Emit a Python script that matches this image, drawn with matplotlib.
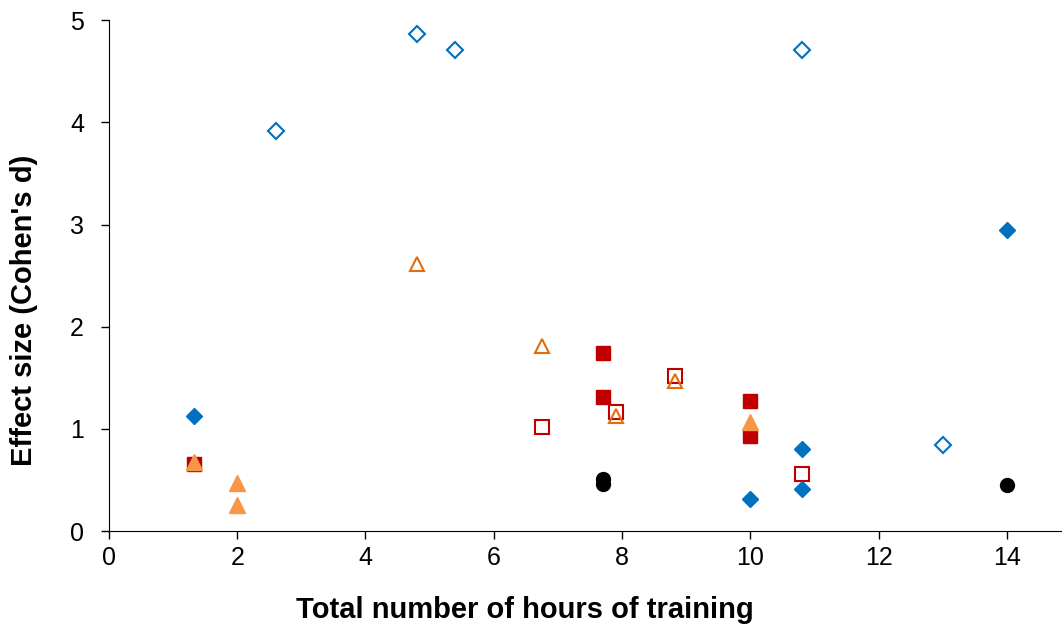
import matplotlib.pyplot as plt

plt.rcParams['font.family'] = ['Liberation Sans', 'DejaVu Sans']

# --- data ---
blue_fill_x = [1.33, 14.0, 10.0, 10.8, 10.8]
blue_fill_y = [1.13, 2.95, 0.31, 0.80, 0.41]

blue_open_x = [2.6, 4.8, 5.4, 10.8, 13.0]
blue_open_y = [3.92, 4.86, 4.71, 4.71, 0.84]

red_fill_x = [1.33, 7.7, 7.7, 10.0, 10.0]
red_fill_y = [0.66, 1.74, 1.31, 1.27, 0.93]

red_open_x = [6.75, 7.9, 8.83, 10.8]
red_open_y = [1.02, 1.17, 1.52, 0.56]

orange_fill_x = [1.33, 2.0, 2.0, 10.0]
orange_fill_y = [0.68, 0.47, 0.26, 1.07]

orange_open_x = [4.8, 6.75, 7.9, 8.83]
orange_open_y = [2.61, 1.81, 1.13, 1.47]

black_x = [7.7, 7.7, 14.0]
black_y = [0.51, 0.46, 0.45]

BLUE = "#0070C0"
RED = "#C00000"
ORANGE = "#F79646"
ORANGE_EDGE = "#E46C0A"

fig = plt.figure(figsize=(10.62, 6.30), dpi=100)
ax = fig.add_axes([0.1026, 0.157, 0.8974, 0.811])

ax.plot(blue_open_x, blue_open_y, "D", ms=8, mfc="white", mec=BLUE, mew=1.5, ls="none")
ax.plot(red_open_x, red_open_y, "s", ms=10, mfc="white", mec=RED, mew=1.5, ls="none")
ax.plot(orange_open_x, orange_open_y, "^", ms=10, mfc="none", mec=ORANGE_EDGE, mew=1.5, ls="none")
ax.plot(red_fill_x, red_fill_y, "s", ms=10.5, color=RED, ls="none")
ax.plot(blue_fill_x, blue_fill_y, "D", ms=8, color=BLUE, ls="none")
ax.plot(orange_fill_x, orange_fill_y, "^", ms=11, color=ORANGE, ls="none")
ax.plot(black_x, black_y, "o", ms=10, color="black", ls="none")

ax.set_xlim(0, 14.86)
ax.set_ylim(0, 5)
ax.set_xticks(range(0, 15, 2))
ax.set_yticks(range(0, 6))
ax.spines["top"].set_visible(False)
ax.spines["right"].set_visible(False)
ax.tick_params(labelsize=18, length=6, width=1)
ax.tick_params(axis="y", pad=12)
ax.tick_params(axis="x", pad=5)

ax.set_xlabel("Total number of hours of training", fontsize=21, fontweight="bold")
ax.set_ylabel("Effect size (Cohen's d)", fontsize=21, fontweight="bold")
ax.xaxis.set_label_coords(0.4365, -0.128)
ax.yaxis.set_label_coords(-0.0745, 0.432)

fig.savefig("out.png", dpi=100)
